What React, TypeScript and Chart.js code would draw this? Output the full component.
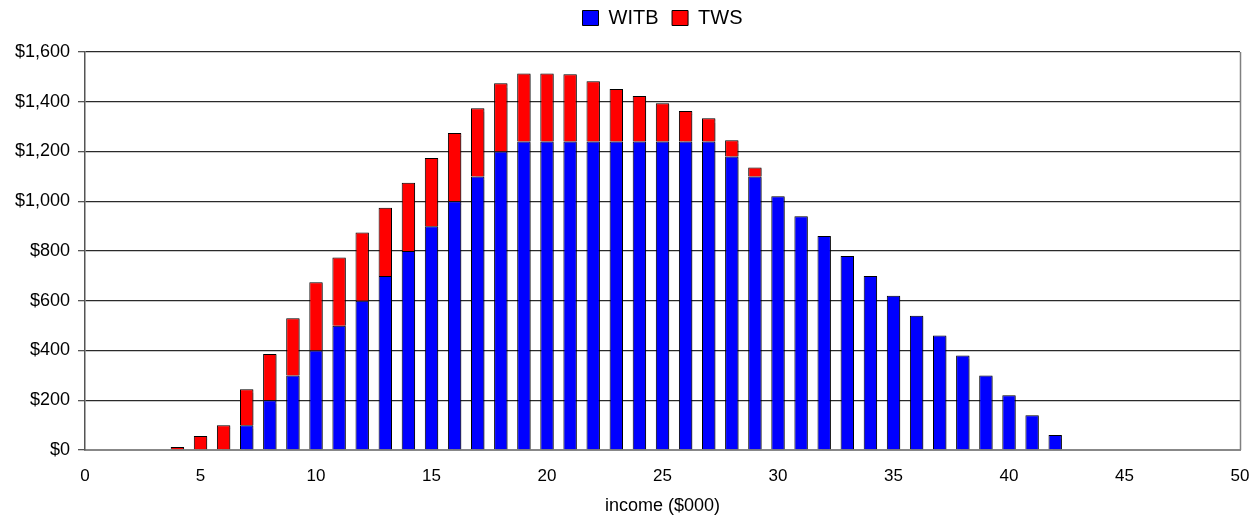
import React, { useEffect, useRef } from "react";
import { Chart, registerables } from "chart.js";

Chart.register(...registerables);

const incomes: string[] = [
  "0","1","2","3","4","5","6","7","8","9","10",
  "11","12","13","14","15","16","17","18","19","20",
  "21","22","23","24","25","26","27","28","29","30",
  "31","32","33","34","35","36","37","38","39","40",
  "41","42","43","44","45","46","47","48","49","50",
];

const witbValues: number[] = [
  0, 0, 0, 0, 0, 0, 0, 100, 200, 300, 400,
  500, 600, 700, 800, 900, 1000, 1100, 1200, 1240, 1240,
  1240, 1240, 1240, 1240, 1240, 1240, 1240, 1180, 1100, 1020,
  940, 860, 780, 700, 620, 540, 460, 380, 300, 220,
  140, 60, 0, 0, 0, 0, 0, 0, 0, 0,
];

const twsValues: number[] = [
  0, 0, 0, 0, 12, 56, 100, 144, 186, 230, 274,
  274, 274, 274, 274, 274, 274, 274, 274, 274, 274,
  271, 242, 211, 183, 154, 123, 94, 65, 36, 0,
  0, 0, 0, 0, 0, 0, 0, 0, 0, 0,
  0, 0, 0, 0, 0, 0, 0, 0, 0, 0,
];

const seriesNames = ["WITB", "TWS"];
const yTickMax = 1600;
const yTickStep = 200;
const xAxisTitle = "income ($000)";

const FONT = "'Liberation Sans', Arial, sans-serif";

export default function App() {
  const canvasRef = useRef<HTMLCanvasElement | null>(null);

  useEffect(() => {
    if (!canvasRef.current) return;

    const framePlugin = {
      id: "frame",
      beforeDatasetsDraw(chart: any) {
        const ctx = chart.ctx;
        ctx.save();
        ctx.shadowColor = "rgba(0,0,0,0.35)";
        ctx.shadowOffsetX = 1.5;
        ctx.shadowOffsetY = 1;
        ctx.shadowBlur = 1;
      },
      afterDatasetsDraw(chart: any) {
        chart.ctx.restore();
        const { ctx, chartArea } = chart;
        ctx.save();
        ctx.strokeStyle = "#808080";
        ctx.lineWidth = 1.5;
        ctx.beginPath();
        ctx.moveTo(chartArea.right + 0.5, chartArea.top);
        ctx.lineTo(chartArea.right + 0.5, chartArea.bottom);
        ctx.stroke();
        ctx.restore();
      },
    };

    const chart = new Chart(canvasRef.current, {
      type: "bar",
      data: {
        labels: incomes,
        datasets: [
          {
            label: seriesNames[0],
            data: witbValues,
            backgroundColor: "#0000FF",
            borderColor: "#000000",
            borderWidth: 1,
            barPercentage: 0.58,
            categoryPercentage: 1,
          },
          {
            label: seriesNames[1],
            data: twsValues,
            backgroundColor: "#FF0000",
            borderColor: "#000000",
            borderWidth: 1,
            barPercentage: 0.58,
            categoryPercentage: 1,
          },
        ],
      },
      options: {
        animation: false,
        responsive: true,
        maintainAspectRatio: false,
        layout: { padding: { left: 0, right: 0, top: 0, bottom: 0 } },
        plugins: {
          tooltip: { enabled: false },
          legend: {
            display: true,
            position: "top",
            fullSize: false,
            labels: {
              boxWidth: 16,
              boxHeight: 15,
              padding: 8,
              color: "#000",
              font: { family: FONT, size: 20 },
              generateLabels: (chart: any) => {
                const items = Chart.defaults.plugins.legend.labels.generateLabels(chart);
                items.forEach((it: any, i: number) => {
                  if (i < items.length - 1) it.text = it.text + " ";
                  it.lineWidth = 1;
                  it.strokeStyle = "#000";
                });
                return items;
              },
            },
          },
        },
        scales: {
          x: {
            type: "category",
            stacked: true,
            offset: false,
            grid: { display: false, drawTicks: false, offset: false },
            border: { display: true, color: "#888", width: 2 },
            ticks: {
              autoSkip: false,
              maxRotation: 0,
              minRotation: 0,
              padding: 16,
              color: "#000",
              font: { family: FONT, size: 17 },
              callback: function (this: any, value: any) {
                const lbl = this.getLabelForValue(value);
                return Number(lbl) % 5 === 0 ? lbl : "";
              },
            },
            title: {
              display: true,
              text: xAxisTitle,
              color: "#000",
              font: { family: FONT, size: 18 },
              padding: { top: 0, bottom: 1 },
            },
            afterFit: (s: any) => {
              s.height = 68;
              s.paddingRight = 12;
              s.paddingLeft = 0;
            },
          },
          x2: {
            type: "category",
            position: "top",
            display: true,
            grid: { display: false, drawTicks: false },
            border: { display: false },
            ticks: { display: false },
            afterFit: (s: any) => {
              s.height = 14;
              s.paddingRight = 0;
              s.paddingLeft = 0;
            },
          },
          y: {
            stacked: true,
            min: 0,
            max: yTickMax,
            grid: {
              color: "#2a2a2a",
              lineWidth: 1.3,
              drawTicks: true,
              tickLength: 7,
              tickColor: "#555",
            },
            border: { display: true, color: "#555", width: 1.5 },
            ticks: {
              stepSize: yTickStep,
              padding: 8,
              color: "#000",
              font: { family: FONT, size: 18 },
              callback: (v: any) => "$" + Number(v).toLocaleString("en-US"),
            },
            afterFit: (s: any) => {
              s.width = 85;
            },
          },
        },
      },
      plugins: [framePlugin],
    } as any);

    return () => chart.destroy();
  }, []);

  return (
    <div
      style={{
        position: "fixed",
        left: 0,
        top: 0,
        width: 1252,
        height: 518,
        background: "#fff",
      }}
    >
      <canvas ref={canvasRef} />
    </div>
  );
}
